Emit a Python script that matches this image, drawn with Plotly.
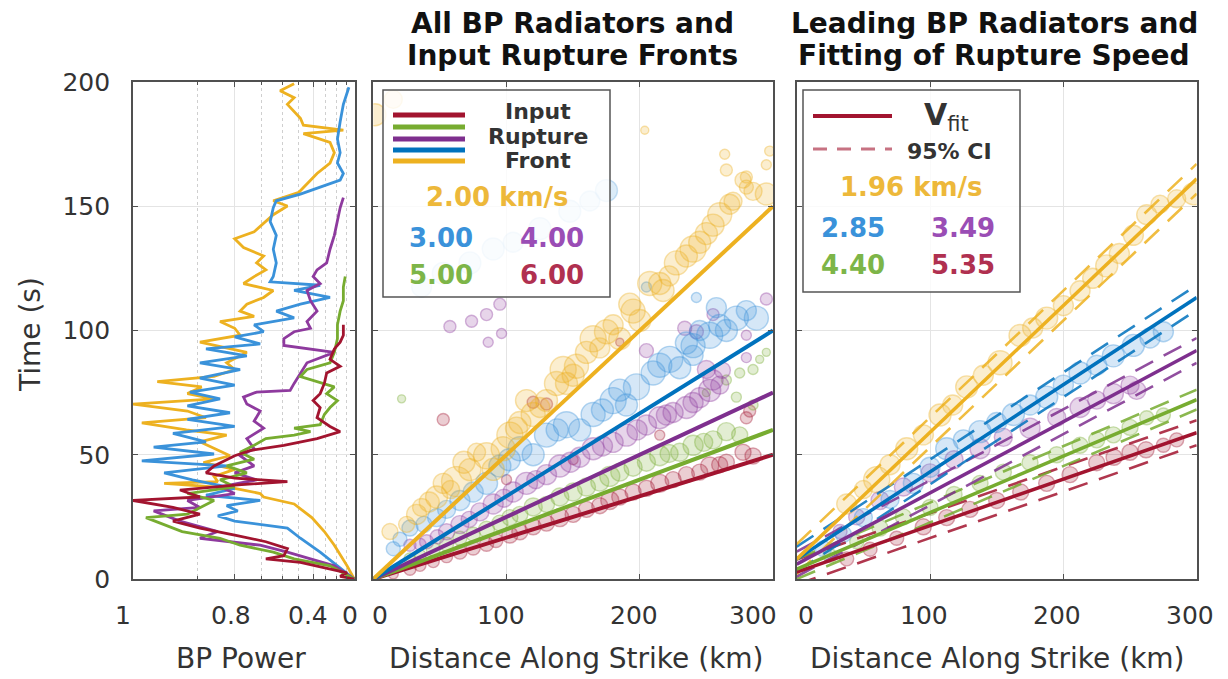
import math
import plotly.graph_objects as go

# page body has an 8px margin, so the figure is 8px smaller and every target pixel is shifted by 8
OX, OY = 8, 8
W, H = 1228 - OX, 679 - OY

# ---------------- colours ----------------
RED = '#A2142F'
GREEN = '#77AC30'
PURPLE = '#7E2F8E'
BLUE = '#0072BD'
YELLOW = '#EDB120'
LBLUE = '#3A92DA'   # lighter blue used for markers / left panel / legend text
LPURP = '#8E3A9E'


def rgba(h, a):
    h = h.lstrip('#')
    r, g, b = int(h[0:2], 16), int(h[2:4], 16), int(h[4:6], 16)
    return f'rgba({r},{g},{b},{a})'


# ---------------- Panel 1 : BP power vs time ----------------
yel_t = [0, 5.3, 13.6, 19.1, 24.7, 30.2, 33, 34.4, 36.5, 38.5, 39.2, 41.3, 44.1, 46.8, 49.6, 52.4, 55.2, 57.9,
         60, 62.8, 64.9, 67.6, 70.4, 72.5, 74.6, 77.3, 79.4, 81.5, 84.3, 87, 91.2, 95.3, 98.1, 100.9, 103.6,
         105.7, 107.8, 110.6, 113.3, 116.1, 118.9, 121.7, 124.4, 127.2, 130, 133.4, 136.9, 139.7, 143.8,
         146.6, 150.1, 152.2, 155.6, 159.1, 163.2, 167.4, 171.5, 175.7, 179.2, 180.6, 182.6, 185.4, 191,
         193.7, 196.5, 199.3]
yel_p = [.01, .09, .22, .31, .41, .53, .69, .705, .80, .96, .85, .86, .80, .886, .815, .86, .894, .825, .922,
         .99, .88, .92, 1.0, .86, .92, .89, .97, .86, .80, .825, .758, .894, .782, .80, .844, .73, .782, .758,
         .69, .645, .77, .73, .68, .72, .69, .77, .80, .73, .68, .645, .57, .645, .50, .445, .37, .26, .22,
         .26, .47, .13, .47, .49, .57, .53, .61, .53]

blu_t = [0, 5.3, 10.8, 16.4, 20.5, 23.3, 25.4, 27.4, 29.5, 31.6, 33.7, 36.5, 39.9, 42.7, 45.5, 47.5, 50.3,
         53.1, 55.2, 58.6, 61.4, 64.2, 66.9, 69.7, 72.5, 75.2, 78, 80.8, 84.3, 87, 89.8, 92.6, 94.6, 97.4,
         99.5, 102.3, 105.1, 107.8, 110.6, 113.3, 116.1, 118.2, 119.6, 121.7, 127.2, 132.7, 138.3, 143.8,
         149.4, 152.2, 154.9, 157.7, 160.5, 163.2, 167.4, 171.5, 177.1, 184, 191, 197.9]
blu_p = [.01, .19, .345, .49, .57, .80, .85, .79, .825, .705, .88, .80, .91, .96, .825, .99, .86, .975, .88,
         .946, .80, .92, .815, .92, .844, .915, .80, .894, .782, .894, .758, .88, .705, .80, .69, .73, .53,
         .63, .49, .26, .53, .345, .66, .645, .63, .645, .63, .66, .645, .63, .49, .345, .163, .13, .19,
         .163, .19, .163, .13, .07]

pur_t = [0, 5.3, 8.1, 10.8, 13.6, 16.4, 19.1, 23.3, 27.4, 28.8, 31.6, 34.4, 37.1, 39.9, 42.7, 45.5, 49.6,
         52.4, 56.5, 60.7, 63.5, 67.6, 70.4, 73.2, 75.2, 75.9, 78.7, 82.9, 87, 91.2, 94, 96.7, 99.5, 100.9,
         103.6, 107.8, 112, 116.1, 118.9, 121.7, 124.4, 127.2, 132.7, 138.3, 143.8, 149.4, 153.5]
pur_p = [.01, .22, .42, .57, .705, .894, .85, .934, .975, .894, .92, .80, .844, .72, .80, .73, .782, .73,
         .758, .69, .73, .705, .758, .77, .72, .554, .53, .49, .445, .22, .59, .59, .53, .42, .445, .37, .42,
         .445, .345, .40, .37, .29, .26, .22, .19, .163, .13]

grn_t = [0, 5.3, 8.1, 10.8, 13.6, 16.4, 19.1, 21.9, 24.7, 26.1, 28.8, 31.6, 34.4, 37.1, 39.9, 42.7, 45.5,
         48.2, 51, 53.8, 56.5, 57.9, 59.3, 60.7, 62.1, 66.2, 69, 71.8, 74.6, 77.3, 81.5, 84.3, 87, 91.2,
         96.7, 102.3, 107.8, 112, 117.5, 121.7]
grn_p = [.01, .26, .53, .645, .782, .844, .93, .96, .985, .92, .894, .86, .92, .80, .844, .758, .825, .73,
         .782, .73, .68, .53, .42, .53, .345, .31, .26, .19, .29, .22, .49, .445, .26, .22, .19, .19, .163,
         .13, .13, .11]

red_t = [0, 1.1, 2.5, 6.7, 8.1, 9.4, 12.2, 15, 17.7, 20.5, 23.3, 26.1, 28.8, 31.6, 33, 35.8, 37.8, 39.2,
         40.6, 42.7, 45.5, 49.6, 51.7, 53.8, 56.5, 59.3, 61.4, 64.9, 69, 71.8, 74.6, 78.7, 82.9, 85.6, 88.4,
         92.6, 95.3, 98.1, 102.3]
red_p = [.01, .163, .09, .49, .68, .59, .57, .68, .80, .894, .946, .894, .946, 1.0, .894, .934, .80, .57,
         .80, .88, .86, .80, .746, .59, .37, .163, .26, .37, .345, .40, .345, .31, .29, .163, .26, .22, .163,
         .13, .13]

# power axis labels
power_ticks = [1.0, 0.8, 0.4, 0.0]
power_labels = ['1', '0.8', '0.4', '0']
power_minor = [0.9, 0.7, 0.6, 0.5, 0.3, 0.2, 0.1]

# distance axis labels
dist_ticks = [0, 100, 200, 300]
dist_labels = ['0', '100', '200', '300']
time_ticks = [0, 50, 100, 150, 200]

# ---------------- Panel 2 : all radiators ----------------
input_speeds = [6.00, 5.00, 4.00, 3.00, 2.00]   # red, green, purple, blue, yellow

p2_yel_x = [1.25, 15, 12.5, 32.5, 36.3, 47.5, 52.5, 62.5, 72.5, 77.5, 85, 90, 97.5, 102.5, 107.5, 115, 120,
            130, 137.5, 142.5, 145, 152.5, 160, 165, 175, 180, 185, 192.5, 195, 203.75, 207.5, 215, 217.5,
            227.5, 235, 240, 245, 255, 260, 263.75, 265, 267.5, 270, 277.5, 280, 280, 295, 295, 297.5,
            25, 42, 58, 68, 110, 125, 150, 170, 200, 222, 250, 285]
p2_yel_t = [186.8, 193, 19.1, 26, 28.8, 33, 38.5, 39.2, 44, 51, 49.6, 44.1, 52.4, 57.9, 60.7, 71.8, 66.2,
            71.8, 78.7, 84.3, 78.7, 85.6, 91.2, 96.7, 99.5, 102.3, 96.7, 110.6, 107.8, 180.6, 118.9, 118.9,
            116.1, 127.2, 130, 132.8, 135.5, 142.4, 146.6, 170.9, 164.6, 150.8, 152, 160.5, 157.7, 161.8,
            154.9, 166.7, 172.2,
            22, 31, 36, 47, 63, 69, 82, 93, 104, 122, 139, 156]
p2_yel_s = [22, 18, 16, 20, 18, 22, 20, 30, 22, 18, 26, 22, 24, 26, 22, 22, 24, 22, 24, 26, 22, 24, 22, 26,
            24, 20, 22, 22, 24, 8, 24, 22, 22, 24, 22, 26, 22, 22, 24, 10, 12, 20, 18, 16, 14, 12, 22, 10, 10,
            16, 20, 18, 22, 22, 20, 22, 20, 22, 20, 22, 18]

p2_bluf_x = [36.3, 52.5, 72.5, 90, 105, 125, 147.5, 162.5, 175]
p2_bluf_t = [117.5, 123, 127.2, 132.8, 135.5, 141, 148, 152.1, 156.3]
p2_bluf_s = [20, 22, 22, 22, 20, 22, 22, 20, 22]

p2_blu_x = [15, 27.5, 47.5, 65, 85, 95, 110, 120, 130, 145, 155, 165, 180, 190, 197.5, 210, 222.5, 230, 240,
            252.5, 257.5, 265, 272.5, 287.5, 242.5, 205, 240,
            20, 38, 55, 75, 102, 138, 172, 185, 215, 235, 245, 260, 280]
p2_blu_t = [12.2, 20.5, 24.7, 31.6, 38.5, 45.5, 52.4, 50, 57.9, 62.1, 60, 66.2, 71.8, 70, 77.3, 82.9, 88.4,
            85, 93.9, 98.1, 109.2, 100, 105, 105, 113.3, 117.5, 90,
            16, 22, 28, 35, 48, 60, 68, 76, 86, 95, 100, 102, 108]
p2_blu_s = [14, 16, 18, 20, 22, 22, 24, 22, 24, 26, 22, 24, 26, 22, 26, 24, 26, 22, 24, 26, 20, 22, 24, 24,
            10, 10, 20,
            14, 16, 18, 20, 22, 22, 22, 22, 24, 22, 20, 22, 20]

p2_pur_x = [27.5, 40, 55, 65, 80, 90, 105, 115, 130, 140, 155, 165, 180, 190, 205, 215, 225, 235, 245, 252.5,
            255, 250, 57.5, 73.75, 85, 95, 86.25, 96.25, 233.75, 242.5, 295, 205, 280, 280, 255,
            35, 48, 72, 98, 122, 148, 172, 198, 220, 240, 260, 262]
p2_pur_t = [13.6, 15, 19, 21.9, 27, 30.2, 35, 38.5, 42, 45.5, 49, 52.4, 55, 57.9, 62, 64.9, 67, 69, 73, 75.9,
            80.1, 84.3, 101.6, 103.7, 106.4, 110.6, 95.3, 98.8, 100.9, 99.5, 112.7, 91.9, 98.1, 89.1, 106.4,
            14, 17, 24, 32.5, 40, 47, 53.5, 60, 66, 71, 78, 84]
p2_pur_s = [12, 14, 16, 18, 18, 20, 20, 22, 20, 22, 20, 22, 20, 22, 20, 22, 20, 22, 20, 22, 20, 18,
            12, 12, 12, 12, 10, 10, 14, 14, 12, 14, 10, 10, 12,
            12, 14, 16, 18, 18, 20, 20, 20, 20, 20, 18, 16]

p2_grn_x = [27.5, 45, 65, 85, 102.5, 120, 140, 160, 177.5, 195, 215, 230, 240, 255, 265,
            275, 285, 290, 295, 265, 272.5, 21.25, 250, 285,
            35, 55, 75, 95, 110, 130, 150, 170, 185, 205, 222, 248, 275]
p2_grn_t = [8.1, 12, 16.4, 20, 24.7, 29, 33, 37, 41.3, 45, 49.6, 51, 53.8, 56, 59.3,
            82.9, 84.3, 88.4, 91.2, 80.1, 73.2, 72.5, 75, 70,
            9.5, 14, 18, 22.5, 26, 30, 35, 39, 43, 47, 50.5, 55, 58]
p2_grn_s = [12, 14, 14, 16, 16, 18, 18, 18, 20, 18, 20, 18, 20, 18, 18, 10, 10, 8, 8, 10, 10, 8, 8, 10,
            12, 14, 14, 16, 16, 16, 18, 18, 18, 18, 18, 18, 16]

p2_red_x = [15, 27.5, 45, 65, 85, 102.5, 120, 140, 160, 177.5, 195, 215, 235, 252.5, 265, 277.5,
            52.5, 120, 130, 282.5, 280, 215, 185, 150, 100,
            35, 55, 75, 92, 110, 130, 150, 170, 185, 205, 225, 245, 260, 285]
p2_red_t = [2, 3.9, 7, 10.8, 14, 17.7, 21, 24.7, 28, 31.6, 35, 38.5, 42, 45.5, 47, 51,
            64.2, 71.1, 70.4, 67.6, 64.9, 57.9, 95.3, 48, 40,
            5.5, 9, 12.5, 15.5, 19, 22.5, 26, 29.5, 33, 36.5, 40, 43, 46, 49.5]
p2_red_s = [10, 12, 12, 14, 14, 16, 16, 18, 16, 18, 16, 18, 16, 18, 16, 16, 12, 12, 12, 12, 12, 10, 8, 10, 10,
            12, 12, 14, 14, 16, 16, 16, 16, 16, 16, 16, 16, 16, 16]

# ---------------- Panel 3 : leading radiators + fits ----------------
fit_speeds = [1.96, 2.85, 3.49, 4.40, 5.35]       # yellow, blue, purple, green, red
fit_t0 = [8, 8, 6, 4, 2.8]                          # intercepts (s)
ci_half = [6, 5, 5, 4, 5]                           # half-width of 95% CI band (s)

p3_yel_x = [37.5, 60, 82.5, 107.5, 127.5, 152.5, 167.5, 187.5, 212.5, 232.5, 252.5, 262.5, 272.5, 297.5,
            50, 70, 95, 117, 140, 177, 200, 222, 242, 285]
p3_yel_t = [30.2, 40, 52.4, 66, 77.3, 87, 98, 105, 116, 126, 138.3, 146.6, 150.8, 155,
            36, 46, 58, 70, 82, 101, 110, 121, 131, 153]
p3_yel_s = [20, 26, 22, 22, 22, 24, 22, 22, 20, 22, 20, 20, 18, 22,
            18, 20, 20, 20, 20, 20, 20, 20, 20, 18]

p3_blu_x = [20, 50, 87.5, 112.5, 137.5, 162.5, 187.5, 212.5, 237.5, 252.5, 275,
            35, 70, 100, 125, 150, 175, 200, 225, 265]
p3_blu_t = [12.2, 24.7, 38.5, 52.4, 59.3, 66.2, 73.2, 82.9, 89.8, 94, 99.5,
            18, 32, 45, 56, 63, 70, 78, 86, 97]
p3_blu_s = [16, 18, 20, 22, 22, 22, 22, 22, 22, 22, 20,
            16, 18, 20, 20, 20, 20, 20, 20, 20]

p3_pur_x = [32.5, 62.5, 100, 137.5, 175, 212.5, 237.5, 255, 45, 80, 118, 155, 195, 225, 250]
p3_pur_t = [19.1, 31.6, 42.7, 52.4, 60.7, 69, 74.6, 75.9, 25, 37, 48, 57, 65, 72, 78]
p3_pur_s = [14, 18, 18, 20, 20, 20, 20, 18, 16, 18, 18, 18, 18, 18, 18]

p3_grn_x = [25, 62.5, 100, 137.5, 175, 212.5, 237.5, 262.5, 45, 80, 118, 155, 195, 225, 250, 275]
p3_grn_t = [9.4, 20.5, 28.8, 38.5, 46.8, 53.8, 58, 64.9, 15, 25, 34, 43, 50, 56, 61, 66]
p3_grn_s = [14, 16, 16, 16, 16, 16, 16, 14, 14, 16, 16, 16, 16, 16, 16, 14]

p3_red_x = [37.5, 75, 112.5, 150, 187.5, 225, 250, 275, 55, 95, 130, 168, 205, 238, 262, 285]
p3_red_t = [8.1, 16.4, 24.7, 31.6, 38.5, 46.8, 51, 53.8, 12, 21, 28, 35, 42, 49, 52, 56]
p3_red_s = [14, 14, 16, 16, 16, 16, 16, 14, 14, 16, 16, 16, 16, 16, 16, 14]

DIST_MAX = 300

# =====================================================================
fig = go.Figure()


def pw2axis(p):
    # BP power is displayed on a logarithmic axis of (11 - 10 * power)
    return 11 - 10 * p


left_series = [(yel_t, yel_p, YELLOW), (blu_t, blu_p, LBLUE), (pur_t, pur_p, LPURP),
               (grn_t, grn_p, GREEN), (red_t, red_p, RED)]
for t, p, c in left_series:
    fig.add_trace(go.Scatter(x=[pw2axis(v) for v in p], y=t, mode='lines',
                             line=dict(color=c, width=2.8), xaxis='x', yaxis='y',
                             hoverinfo='skip', showlegend=False))


def add_pts(x, t, s, c, ax, ay, fa=0.3, la=0.55):
    fig.add_trace(go.Scatter(x=x, y=t, mode='markers', xaxis=ax, yaxis=ay, showlegend=False,
                             hoverinfo='skip',
                             marker=dict(size=s, color=rgba(c, fa),
                                         line=dict(color=rgba(c, la), width=1.4))))


# panel 2 points
add_pts(p2_bluf_x, p2_bluf_t, p2_bluf_s, LBLUE, 'x2', 'y2', 0.25, 0.35)
add_pts(p2_red_x, p2_red_t, p2_red_s, RED, 'x2', 'y2')
add_pts(p2_grn_x, p2_grn_t, p2_grn_s, GREEN, 'x2', 'y2')
add_pts(p2_pur_x, p2_pur_t, p2_pur_s, LPURP, 'x2', 'y2')
add_pts(p2_blu_x, p2_blu_t, p2_blu_s, LBLUE, 'x2', 'y2')
add_pts(p2_yel_x, p2_yel_t, p2_yel_s, YELLOW, 'x2', 'y2')

# panel 2 input rupture fronts
for v, c in zip(input_speeds, [RED, GREEN, PURPLE, BLUE, YELLOW]):
    fig.add_trace(go.Scatter(x=[0, DIST_MAX], y=[0, DIST_MAX / v], mode='lines', xaxis='x2', yaxis='y2',
                             line=dict(color=c, width=4), showlegend=False, hoverinfo='skip'))

# panel 3 points
add_pts(p3_red_x, p3_red_t, p3_red_s, RED, 'x3', 'y3')
add_pts(p3_grn_x, p3_grn_t, p3_grn_s, GREEN, 'x3', 'y3')
add_pts(p3_pur_x, p3_pur_t, p3_pur_s, LPURP, 'x3', 'y3')
add_pts(p3_blu_x, p3_blu_t, p3_blu_s, LBLUE, 'x3', 'y3')
add_pts(p3_yel_x, p3_yel_t, p3_yel_s, YELLOW, 'x3', 'y3')

fit_cols = [YELLOW, BLUE, PURPLE, GREEN, RED]
order = [4, 3, 2, 1, 0]
for i in order:
    v, t0, d, c = fit_speeds[i], fit_t0[i], ci_half[i], fit_cols[i]
    for sgn in (-1, 1):
        fig.add_trace(go.Scatter(x=[0, DIST_MAX], y=[t0 + sgn * d, t0 + sgn * d + DIST_MAX / v], mode='lines',
                                 xaxis='x3', yaxis='y3', showlegend=False, hoverinfo='skip',
                                 line=dict(color=rgba(c, 0.85), width=2.6, dash='20px,12px')))
for i in order:
    v, t0, c = fit_speeds[i], fit_t0[i], fit_cols[i]
    fig.add_trace(go.Scatter(x=[0, DIST_MAX], y=[t0, t0 + DIST_MAX / v], mode='lines',
                             xaxis='x3', yaxis='y3', showlegend=False, hoverinfo='skip',
                             line=dict(color=c, width=3.5)))

# =====================================================================
FONT = 'DejaVu Sans'
TXT = '#333333'
AX = '#505050'


def px(x):
    return (x - OX) / W


def py(y):
    return 1 - (y - OY) / H


ydom = [py(579), py(82)]
common = dict(showline=True, linecolor=AX, linewidth=1.6, mirror='ticks', ticks='inside', ticklen=5,
              tickcolor=AX, gridcolor='#e4e4e4', gridwidth=1, zeroline=False, automargin=False,
              tickfont=dict(family=FONT, size=25, color=TXT))

fig.update_layout(
    width=W, height=H, margin=dict(l=0, r=0, t=0, b=0, autoexpand=False), paper_bgcolor='white',
    plot_bgcolor='white', showlegend=False,
    xaxis=dict(common, domain=[px(133), px(355)], type='log', range=[0, math.log10(11)],
               tickvals=[pw2axis(v) for v in power_ticks], showticklabels=False,
               minor=dict(tickvals=[pw2axis(v) for v in power_minor], ticks='inside', ticklen=3,
                          tickcolor=AX, showgrid=True, gridcolor='#cfcfcf', griddash='dot')),
    yaxis=dict(common, domain=ydom, range=[0, 200], tickvals=time_ticks, anchor='x',
               ticklabelstandoff=16),
    xaxis2=dict(common, domain=[px(373.3), px(773)], range=[0, 300], tickvals=dist_ticks,
                anchor='y2', showticklabels=False),
    yaxis2=dict(common, domain=ydom, range=[0, 200], tickvals=time_ticks, anchor='x2',
                showticklabels=False),
    xaxis3=dict(common, domain=[px(796.7), px(1196.7)], range=[0, 300], tickvals=dist_ticks,
                anchor='y3', showticklabels=False),
    yaxis3=dict(common, domain=ydom, range=[0, 200], tickvals=time_ticks, anchor='x3',
                showticklabels=False),
)

shapes = []
annots = []


def text(s, x, y, size, color=TXT, bold=False, angle=0):
    annots.append(dict(text=f'<b>{s}</b>' if bold else s, x=px(x), y=py(y), xref='paper', yref='paper',
                       xanchor='center', yanchor='middle', showarrow=False, textangle=angle,
                       font=dict(family=FONT, size=size, color=color)))


# x tick labels, placed at the axis values with the small nudges seen in the reference
TICK_Y = py(615)
for v, lab, sh in zip(power_ticks, power_labels, [-10, -4, -5, -5]):
    annots.append(dict(text=lab, x=math.log10(pw2axis(v)), y=TICK_Y, xref='x', yref='paper',
                       xanchor='center', yanchor='middle', showarrow=False, xshift=sh,
                       font=dict(family=FONT, size=25, color=TXT)))
for ax, shifts in (('x2', [7, -6, -6, -20]), ('x3', [9, -6, -6, -7])):
    for v, lab, sh in zip(dist_ticks, dist_labels, shifts):
        annots.append(dict(text=lab, x=v, y=TICK_Y, xref=ax, yref='paper', xanchor='center',
                           yanchor='middle', showarrow=False, xshift=sh,
                           font=dict(family=FONT, size=25, color=TXT)))

# titles
text('All BP Radiators and', 572, 23, 28, '#111', True)
text('Input Rupture Fronts', 572, 56, 28, '#111', True)
text('Leading BP Radiators and', 994, 23, 28, '#111', True)
text('Fitting of Rupture Speed', 994, 56, 28, '#111', True)

# axis titles
text('Time (s)', 30, 335, 28, angle=-90)
text('BP Power', 241, 658, 28)
text('Distance Along Strike (km)', 576, 658, 28)
text('Distance Along Strike (km)', 997, 658, 28)

# legend panel 2
shapes.append(dict(type='rect', xref='paper', yref='paper', x0=px(383), x1=px(610), y0=py(297), y1=py(90),
                   line=dict(color='#555', width=1.5), fillcolor='rgba(255,255,255,0.82)', layer='above'))
for yy, c in zip([115, 127, 139, 150, 161], [RED, GREEN, PURPLE, BLUE, YELLOW]):
    shapes.append(dict(type='line', xref='paper', yref='paper', x0=px(393), x1=px(465), y0=py(yy), y1=py(yy),
                       line=dict(color=c, width=5), layer='above'))
text('Input', 538, 111, 22, TXT, True)
text('Rupture', 538, 136, 22, TXT, True)
text('Front', 538, 160, 22, TXT, True)
text('2.00 km/s', 497, 197, 26, '#EDB83A', True)
text('3.00', 441, 238, 26, LBLUE, True)
text('4.00', 552, 238, 26, '#9A4DB5', True)
text('5.00', 441, 275, 26, '#7DB548', True)
text('6.00', 552, 275, 26, '#B03050', True)

# legend panel 3
shapes.append(dict(type='rect', xref='paper', yref='paper', x0=px(803), x1=px(1020), y0=py(292), y1=py(90),
                   line=dict(color='#555', width=1.5), fillcolor='rgba(255,255,255,0.82)', layer='above'))
shapes.append(dict(type='line', xref='paper', yref='paper', x0=px(813), x1=px(892), y0=py(116), y1=py(116),
                   line=dict(color=RED, width=4), layer='above'))
shapes.append(dict(type='line', xref='paper', yref='paper', x0=px(813), x1=px(892), y0=py(149), y1=py(149),
                   line=dict(color=rgba(RED, 0.6), width=3, dash='14px,10px'), layer='above'))
text('<b>V</b><sub>fit</sub>', 946, 117, 30, TXT)
text('95% CI', 950, 151, 22, TXT, True)
text('1.96 km/s', 911, 187, 26, '#EDB83A', True)
text('2.85', 853, 228, 26, LBLUE, True)
text('3.49', 963, 228, 26, '#9A4DB5', True)
text('4.40', 853, 265, 26, '#7DB548', True)
text('5.35', 963, 265, 26, '#B03050', True)

fig.update_layout(shapes=shapes, annotations=annots)
fig.write_html('out.html')
